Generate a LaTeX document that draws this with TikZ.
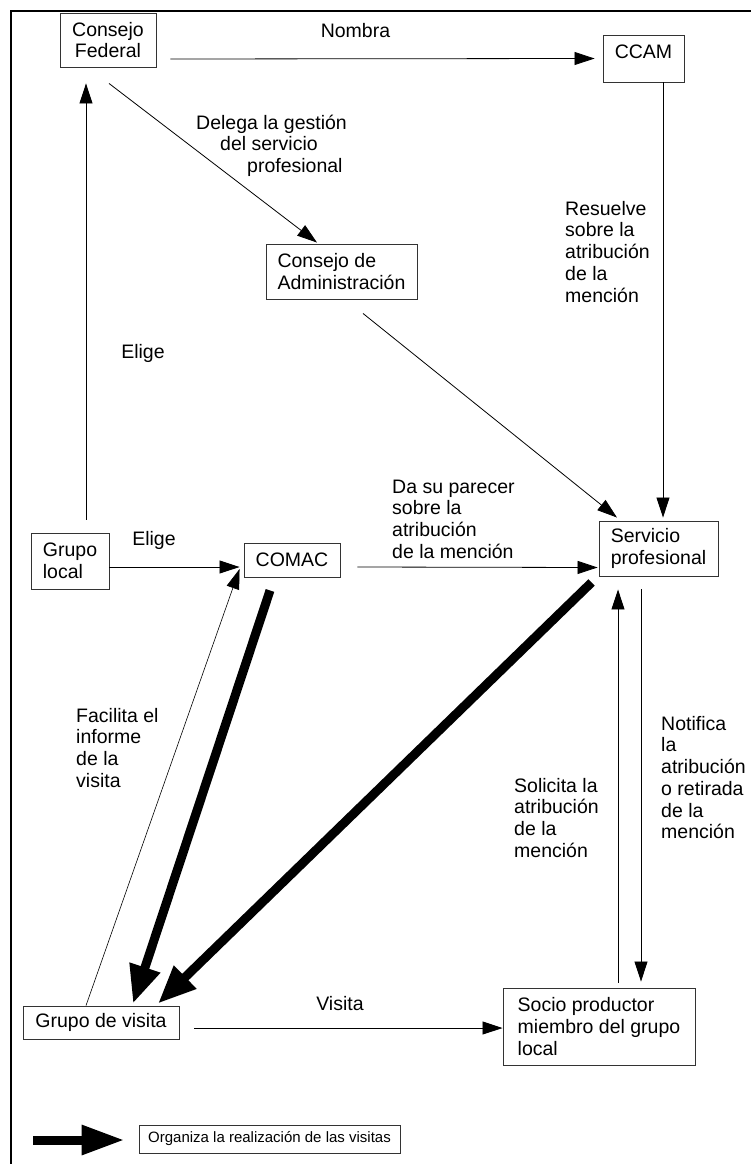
\documentclass[tikz,border=0pt]{standalone}
\usepackage{fontspec}
\setmainfont{Liberation Sans}
\usetikzlibrary{arrows.meta,calc}
\begin{document}
\begin{tikzpicture}[x=1pt,y=-1pt,
  every node/.style={font=\fontsize{19.5}{21.75}\selectfont, inner sep=0pt},
  box/.style={draw=black!80, line width=0.9pt, rectangle},
  lbl/.style={align=left, anchor=base west},
  conn/.style={line width=0.8pt, -{Triangle[length=20pt,width=13pt]}},
  thinconn/.style={line width=0.6pt, -{Triangle[length=20pt,width=13pt]}},
  heavyarrow/.style={line width=9pt, -{Triangle[length=38pt,width=30pt]}},
  legarrow/.style={line width=9pt, -{Triangle[length=43pt,width=28pt]}}
]
\useasboundingbox (0,0) rectangle (751,1164);
% frame
\draw[line width=2.2pt] (11,1175) -- (11,11) -- (760,11);

% boxes
\node[box, minimum width=96pt, minimum height=54pt, align=center] (cf) at (108,40) {Consejo\\Federal};
\node[box, minimum width=81pt, minimum height=47pt, text height=14pt, text depth=14pt] (ccam) at (643.5,58.5) {CCAM};
\node[box, minimum width=151pt, minimum height=55pt, align=left] (ca) at (341.5,271.5) {Consejo de\\Administración};
\node[box, minimum width=78pt, minimum height=56pt, align=left] (gl) at (70,561) {Grupo\\local};
\node[box, minimum width=96pt, minimum height=34pt] (comac) at (292,560) {COMAC};
\node[box, minimum width=119pt, minimum height=55pt, align=left] (sp) at (658.5,548.5) {Servicio\\profesional};
\node[box, minimum width=156pt, minimum height=33pt] (gv) at (101,1022.5) {Grupo de visita};
\node[box, minimum width=192pt, minimum height=77pt, align=left] (socio) at (599,1026.5) {Socio productor\\miembro del grupo\\local};
\node[box, minimum width=261pt, minimum height=28pt, font=\fontsize{15}{18}\selectfont] (leg) at (269.5,1139) {Organiza la realización de las visitas};

% labels (anchor = baseline of last line)
\node (nombra) at (355.5,31) {Nombra};
\node[lbl] (delega) at (196,172.5) {Delega la gestión\\\hspace*{24pt}del servicio\\\hspace*{51pt}profesional};
\node[lbl] (resuelve) at (565,302) {Resuelve\\sobre la\\atribución\\de la\\mención};
\node (elige1) at (143,353) {Elige};
\node (elige2) at (154,540) {Elige};
\node[lbl] (parecer) at (392,558.25) {Da su parecer\\sobre la\\atribución\\de la mención};
\node[lbl] (facilita) at (76,787.25) {Facilita el\\informe\\de la\\visita};
\node (visita) at (340,1004) {Visita};
\node[lbl] (solicita) at (514,857.25) {Solicita la\\atribución\\de la\\mención};
\node[lbl] (notifica) at (661,838.75) {Notifica\\la\\atribución\\o retirada\\de la\\mención};

% connectors
\draw[conn] ($(cf.east)+(14,19)$) -- ($(ccam.west)+(-8,0)$);
\draw[conn] ($(gl.north)+(16,-13)$) -- ($(cf.south)+(-22,16)$);
\draw[conn] ($(cf.south)+(1,16)$) -- ($(ca.north)+(-24.5,-1)$);
\draw[conn] ($(ca.south)+(21.5,14)$) -- ($(sp.north)+(-41.5,-3)$);
\draw[conn] ($(ccam.south)+(19.5,0)$) -- ($(sp.north)+(4.5,-3)$);
\draw[conn] ($(gl.east)+(0,6)$) -- ($(comac.west)+(-4,7)$);
\draw[conn] ($(comac.east)+(17,7)$) -- ($(sp.west)+(-1,19)$);
\draw[thinconn] ($(gv.north)+(-15,0)$) -- ($(comac.west)+(-4,9)$);
\draw[heavyarrow] ($(comac.south)+(-22,13)$) -- ($(gv.north)+(32,-2)$);
\draw[heavyarrow] ($(sp.south west)+(-7,6)$) -- ($(gv.north)+(57,-2)$);
\draw[conn] ($(socio.north)+(19,-5)$) -- ($(sp.south)+(-40.5,13)$);
\draw[conn] ($(sp.south)+(-17.5,13)$) -- ($(socio.north)+(42,-6)$);
\draw[conn] ($(gv.east)+(15,5.5)$) -- ($(socio.west)+(0,1.5)$);

% legend arrow
\coordinate (legstart) at (33,1140);
\draw[legarrow] (legstart) -- ($(leg.west)+(-14,1)$);
\end{tikzpicture}
\end{document}
